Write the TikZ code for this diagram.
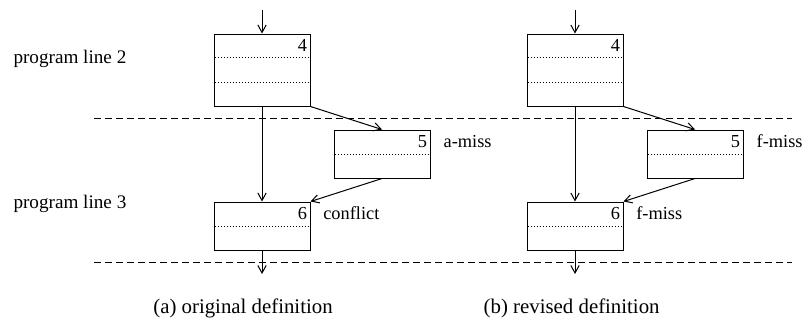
\documentclass[tikz,border=0pt]{standalone}
\usepackage{fontspec}
\setmainfont{Liberation Serif}
\usetikzlibrary{arrows.meta,calc}

\begin{document}
\begin{tikzpicture}[
  x=0.6pt, y=-0.6pt,
  line width=0.6pt,
  font=\fontsize{11}{13}\selectfont,
  blk/.style={draw, minimum width=57.6pt, inner sep=0pt},
  blkhi/.style={blk, minimum height=43.2pt},
  blklo/.style={blk, minimum height=28.8pt},
  sep/.style={dash pattern=on 4.2pt off 2.4pt},
  row/.style={dash pattern=on 0.6pt off 1.2pt, shorten <=0.6pt, shorten >=0.6pt},
  flow/.style={-{Straight Barb[length=4.5pt,width=5pt]}},
  tag/.style={anchor=east, inner sep=0pt},
  note/.style={anchor=west, inner sep=0pt},
  linelbl/.style={font=\fontsize{11.5}{13}\selectfont, anchor=base west, inner sep=0pt},
  caption/.style={font=\fontsize{12.5}{15}\selectfont}
]
\useasboundingbox (0,0) rectangle (803,328);

% program line boundaries
\coordinate (s1l) at (94,118);  \coordinate (s1r) at (792,118);
\coordinate (s2l) at (94,262);  \coordinate (s2r) at (792,262);
\draw[sep] (s1l) -- (s1r);
\draw[sep] (s2l) -- (s2r);
\node[linelbl] (pl2) at (13,63) {program line 2};
\node[linelbl] (pl3) at (13,208) {program line 3};

% the two versions side by side
\foreach \p/\dx/\mfive/\msix/\cap in {a/0/a-miss/conflict/{(a) original definition},
                                       b/313/f-miss/f-miss/{(b) revised definition}} {
  \node[blkhi] (\p4) at (262+\dx,70) {};
  \node[blklo] (\p5) at (382+\dx,154) {};
  \node[blklo] (\p6) at (262+\dx,226) {};
  \draw[row] ($(\p4.north west)!1/3!(\p4.south west)$) -- ($(\p4.north east)!1/3!(\p4.south east)$);
  \draw[row] ($(\p4.north west)!2/3!(\p4.south west)$) -- ($(\p4.north east)!2/3!(\p4.south east)$);
  \draw[row] (\p5.west) -- (\p5.east);
  \draw[row] (\p6.west) -- (\p6.east);
  \node[tag] at ([xshift=-1.8pt,yshift=-7.2pt]\p4.north east) {4};
  \node[tag] at ([xshift=-1.8pt,yshift=-7.2pt]\p5.north east) {5};
  \node[tag] at ([xshift=-1.8pt,yshift=-7.2pt]\p6.north east) {6};
  \node[note] (\p5m) at ([xshift=7.6pt,yshift=-7.2pt]\p5.north east) {\mfive};
  \node[note] (\p6m) at ([xshift=7.4pt,yshift=-7.2pt]\p6.north east) {\msix};
  \coordinate (\p in) at (262+\dx,10);
  \coordinate (\p out) at (262+\dx,274);
  \draw[flow] (\p in) -- (\p4.north);
  \draw[flow] (\p4.south) -- (\p6.north);
  \draw[flow] (\p4.south east) -- (\p5.north);
  \draw[flow] (\p5.south) -- (\p6.north east);
  \draw[flow] (\p6.south) -- (\p out);
  \node[caption] (\p cap) at (243+\dx*1.05,308) {\cap};
}
\end{tikzpicture}
\end{document}
